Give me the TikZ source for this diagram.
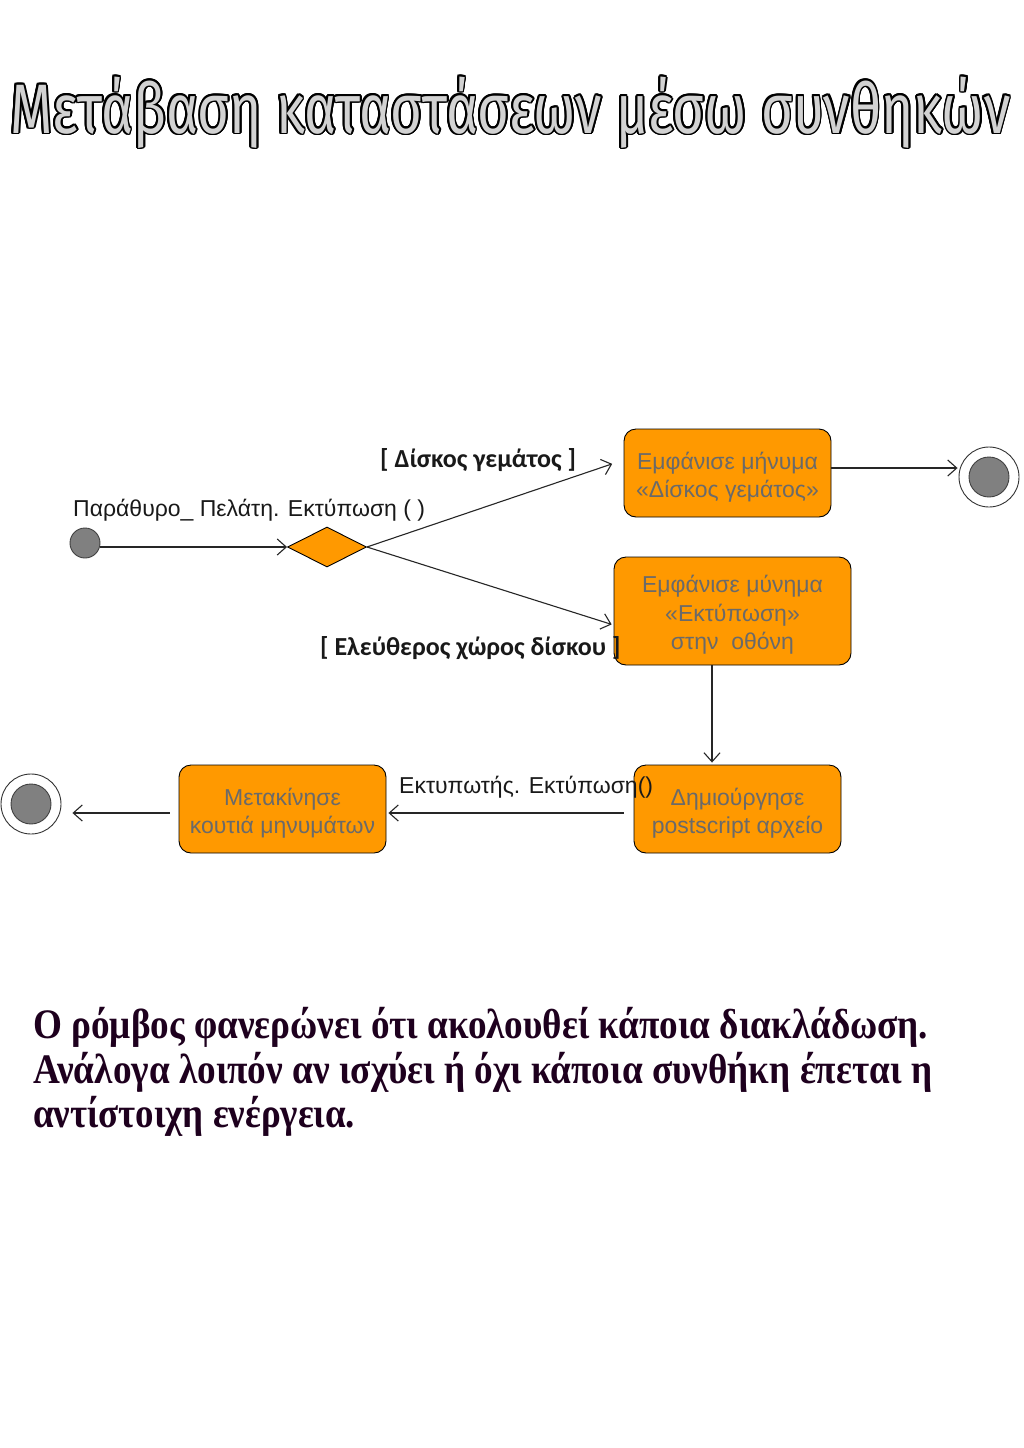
\documentclass[tikz,border=0pt]{standalone}
\usepackage{fontspec}
\usepackage{graphicx}
\setmainfont{Liberation Sans}
\newfontfamily\titlefont{Fira Sans}
\newfontfamily\labfont{Carlito}
\newfontfamily\serifbold{Liberation Serif}
\usetikzlibrary{shapes.geometric,arrows.meta}
\definecolor{boxorange}{HTML}{FF9900}
\definecolor{boxtext}{HTML}{6A6A6A}
\definecolor{stategray}{HTML}{808080}
\definecolor{titlegray}{HTML}{D2D2D2}
\definecolor{bodytext}{HTML}{1E001E}
\tikzset{
  titlestyle/.style={anchor=base west, inner sep=0pt, font=\titlefont\fontsize{70}{80}\selectfont},
  initst/.style={circle, draw=black!75, fill=stategray, line width=0.9pt, minimum size=30pt, inner sep=0pt},
  finalout/.style={circle, draw=black!80, fill=white, line width=0.9pt, minimum size=60pt, inner sep=0pt},
  finalin/.style={circle, draw=black!75, fill=stategray, line width=0.9pt, minimum size=40pt, inner sep=0pt},
  decision/.style={diamond, draw=black, fill=boxorange, line width=0.9pt, minimum width=79pt, minimum height=40pt, aspect=2, inner sep=0pt},
  statebox/.style={rectangle, rounded corners=12pt, draw=black, fill=boxorange, line width=0.9pt, inner sep=0pt},
  boxtxt/.style={align=center, text=boxtext, inner sep=0pt, font=\fontsize{23}{28.5}\selectfont},
  lab/.style={anchor=base west, inner sep=0pt, font=\fontsize{23}{26}\selectfont, text=black!90},
  glab/.style={anchor=base west, inner sep=0pt, font=\labfont\bfseries\fontsize{26}{30}\selectfont, text=black!90},
  arr/.style={draw=black!85, line width=1.1pt, -{Straight Barb[length=9pt,width=16pt,line width=1.1pt]}},
  bodyline/.style={anchor=base west, inner sep=0pt, text=bodytext, font=\serifbold\bfseries\fontsize{42}{45}\selectfont}
}
\begin{document}
\begin{tikzpicture}[x=1pt,y=-1pt]
\useasboundingbox[fill=white] (0,0) rectangle (1024,1448);
% title (outlined)
\foreach \a [count=\i] in {0,22.5,...,337.5}
  \node[titlestyle, text=black, shift={(\a:1.8)}] (tsh\i) at (10,133) {\resizebox{1000pt}{\height}{Μετάβαση καταστάσεων μέσω συνθηκών}};
\node[titlestyle, text=titlegray] (title) at (10,133) {\resizebox{1000pt}{\height}{Μετάβαση καταστάσεων μέσω συνθηκών}};

% states
\node[initst] (init) at (85,543) {};
\node[decision] (dia) at (327,547) {};
\node[statebox, minimum width=207pt, minimum height=88pt] (box1) at (727.5,473) {};
\node[boxtxt] (t1) at ([yshift=-4pt]box1.center) {Εμφάνισε μήνυμα\\«Δίσκος γεμάτος»};
\node[statebox, minimum width=237pt, minimum height=108pt] (box2) at (732.5,611) {};
\node[boxtxt] (t2) at ([yshift=-4pt]box2.center) {Εμφάνισε μύνημα\\«Εκτύπωση»\\στην\ \ οθόνη};
\node[statebox, minimum width=207pt, minimum height=88pt] (box3) at (737.5,809) {};
\node[boxtxt] (t3) at ([yshift=-4pt]box3.center) {Δημιούργησε\\postscript αρχείο};
\node[statebox, minimum width=207pt, minimum height=88pt] (box4) at (282.5,809) {};
\node[boxtxt] (t4) at ([yshift=-4pt]box4.center) {Μετακίνησε\\κουτιά μηνυμάτων};
\node[finalout] (fin1) at (989,477) {};
\node[finalin] (fin1in) at (fin1) {};
\node[finalout] (fin2) at (31,804) {};
\node[finalin] (fin2in) at (fin2) {};

% connectors
\draw[arr] ([yshift=-4pt]init.east) -- (dia.west);
\draw[arr, shorten >=12pt] (dia.east) -- ([yshift=13pt]box1.west);
\draw[arr, shorten >=2pt] (dia.east) -- ([yshift=-14pt]box2.west);
\draw[arr, shorten >=1pt] ([yshift=5pt]box1.east) -- ([yshift=5pt]box1.east -| fin1.west);
\draw[arr, shorten >=2pt] ([xshift=-20.5pt]box2.south) -- ([xshift=-25.5pt]box3.north);
\draw[arr, shorten <=10pt, shorten >=2pt] ([yshift=-4pt]box3.west) -- ([yshift=-4pt]box4.east);
\draw[arr, shorten <=9pt, shorten >=11pt] ([yshift=-4pt]box4.west) -- ([yshift=-4pt]box4.west -| fin2.east);

% labels
\node[lab] (l0) at (73,516) {Παράθυρο\_ Πελάτη. Εκτύπωση ( )};
\node[glab] (l1) at (380,467) {[ Δίσκος γεμάτος ]};
\node[glab] (l2) at (320,655) {[ Ελεύθερος χώρος δίσκου ]};
\node[lab] (l3) at (399,793) {Εκτυπωτής. Εκτύπωση()};

% body text
\node[bodyline] (b1) at (33,1038) {\resizebox{895pt}{\height}{Ο ρόμβος φανερώνει ότι ακολουθεί κάποια διακλάδωση.}};
\node[bodyline] (b2) at (33,1083) {\resizebox{899pt}{\height}{Ανάλογα λοιπόν αν ισχύει ή όχι κάποια συνθήκη έπεται η}};
\node[bodyline] (b3) at (33,1127) {\resizebox{322pt}{\height}{αντίστοιχη ενέργεια.}};
\end{tikzpicture}
\end{document}
